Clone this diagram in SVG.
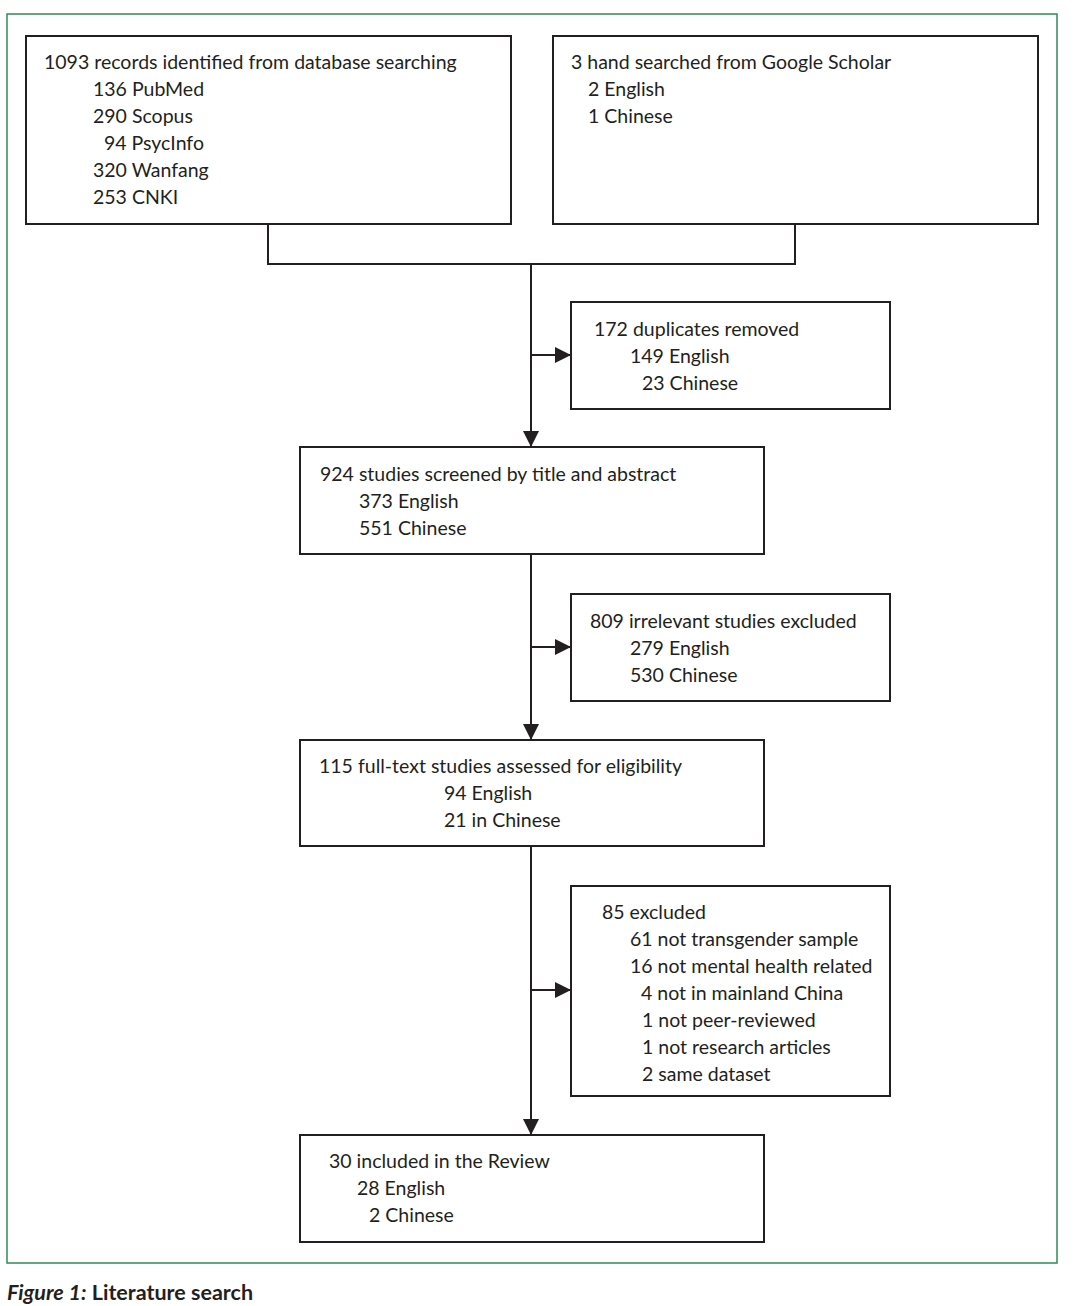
<svg xmlns="http://www.w3.org/2000/svg" width="1080" height="1306" viewBox="0 0 1080 1306">
<style>
.b{fill:#fff;stroke:#231f20;stroke-width:2}
.t{font-family:Lato,"Open Sans",sans-serif;font-size:19.5px;fill:#231f20}
.c{fill:none;stroke:#231f20;stroke-width:2}
.cap{font-family:Lato,"Open Sans",sans-serif;font-size:21.5px;fill:#231f20;font-weight:bold}
</style>
<defs>
<marker id="ah" viewBox="0 0 10 10" refX="10" refY="5" markerWidth="8" markerHeight="8" markerUnits="strokeWidth" orient="auto">
<path d="M0,0 L10,5 L0,10 Z" fill="#231f20"/>
</marker>
</defs>
<rect width="1080" height="1306" fill="#fff"/>
<rect x="7" y="14" width="1050" height="1249" fill="none" stroke="#2e8b57" stroke-width="1.5"/>
<g id="connectors">
<path class="c" d="M268,224 V264 H795 V224"/>
<path class="c" d="M531,264 V447" marker-end="url(#ah)"/>
<path class="c" d="M531,355 H571" marker-end="url(#ah)"/>
<path class="c" d="M531,554 V740" marker-end="url(#ah)"/>
<path class="c" d="M531,647 H571" marker-end="url(#ah)"/>
<path class="c" d="M531,846 V1135" marker-end="url(#ah)"/>
<path class="c" d="M531,990 H571" marker-end="url(#ah)"/>
</g>
<g id="n1">
<rect class="b" x="26" y="36" width="485" height="188"/>
<text class="t" x="44" y="69">1093 records identified from database searching</text>
<text class="t" x="93" y="96">136 PubMed</text>
<text class="t" x="93" y="123">290 Scopus</text>
<text class="t" x="104" y="150">94 PsycInfo</text>
<text class="t" x="93" y="177">320 Wanfang</text>
<text class="t" x="93" y="204">253 CNKI</text>
</g>
<g id="n2">
<rect class="b" x="553" y="36" width="485" height="188"/>
<text class="t" x="571" y="69">3 hand searched from Google Scholar</text>
<text class="t" x="588" y="96">2 English</text>
<text class="t" x="588" y="123">1 Chinese</text>
</g>
<g id="n3">
<rect class="b" x="571" y="302" width="319" height="107"/>
<text class="t" x="594" y="336">172 duplicates removed</text>
<text class="t" x="630" y="363">149 English</text>
<text class="t" x="642" y="390">23 Chinese</text>
</g>
<g id="n4">
<rect class="b" x="300" y="447" width="464" height="107"/>
<text class="t" x="320" y="481">924 studies screened by title and abstract</text>
<text class="t" x="359" y="508">373 English</text>
<text class="t" x="359" y="535">551 Chinese</text>
</g>
<g id="n5">
<rect class="b" x="571" y="594" width="319" height="107"/>
<text class="t" x="590" y="628">809 irrelevant studies excluded</text>
<text class="t" x="630" y="655">279 English</text>
<text class="t" x="630" y="682">530 Chinese</text>
</g>
<g id="n6">
<rect class="b" x="300" y="740" width="464" height="106"/>
<text class="t" x="319" y="773">115 full-text studies assessed for eligibility</text>
<text class="t" x="444" y="800">94 English</text>
<text class="t" x="444" y="827">21 in Chinese</text>
</g>
<g id="n7">
<rect class="b" x="571" y="886" width="319" height="210"/>
<text class="t" x="602" y="919">85 excluded</text>
<text class="t" x="630" y="946">61 not transgender sample</text>
<text class="t" x="630" y="973">16 not mental health related</text>
<text class="t" x="641" y="1000">4 not in mainland China</text>
<text class="t" x="642" y="1027">1 not peer-reviewed</text>
<text class="t" x="642" y="1054">1 not research articles</text>
<text class="t" x="642" y="1081">2 same dataset</text>
</g>
<g id="n8">
<rect class="b" x="300" y="1135" width="464" height="107"/>
<text class="t" x="329" y="1168">30 included in the Review</text>
<text class="t" x="357" y="1195">28 English</text>
<text class="t" x="369" y="1222">2 Chinese</text>
</g>
<text class="cap" x="7" y="1300"><tspan font-style="italic">Figure 1:</tspan> Literature search</text>
</svg>
